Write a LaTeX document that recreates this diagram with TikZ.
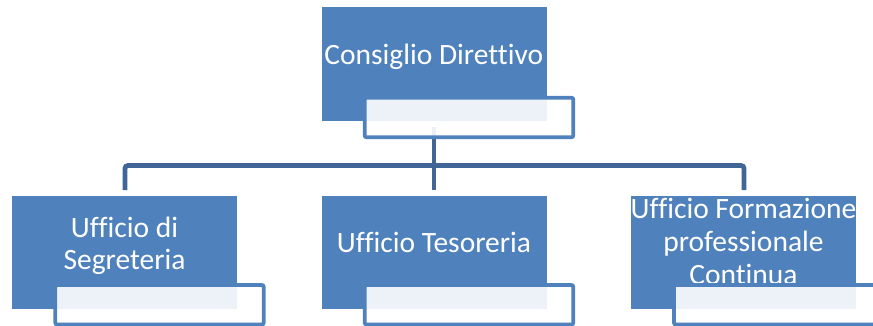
\documentclass[tikz,border=0pt]{standalone}
\usepackage{fontspec}
\setmainfont{Carlito}[Ligatures={NoCommon}]
\definecolor{boxblue}{HTML}{4F81BD}
\definecolor{linkblue}{HTML}{3F6696}
\tikzset{
  bluebox/.style={fill=boxblue, draw=none},
  lbl/.style={text=white, font=\fontsize{29.5}{31}\selectfont, inner sep=0pt, align=center},
  tagbox/.style={fill=white, fill opacity=0.9, draw=boxblue, draw opacity=1, line width=3.8pt, rounded corners=2pt},
  link/.style={draw=linkblue, line width=4.8pt, rounded corners=3pt}
}
\begin{document}
\begin{tikzpicture}[x=1pt, y=-1pt]
\useasboundingbox (0,0) rectangle (873,326);
\clip (0,0) rectangle (873,326);
% blue boxes
\fill[bluebox] (321.7,7.3) rectangle (546.7,120.7);
\fill[bluebox] (12,196) rectangle (237.3,309.3);
\fill[bluebox] (321.7,196) rectangle (546.7,309.3);
\fill[bluebox] (631,196) rectangle (856.3,309.3);
% texts
\node[lbl, anchor=base] (cd) at (433.8,65) {Consiglio Direttivo};
\node[lbl, anchor=center, font=\fontsize{29.5}{32}\selectfont] (seg) at (124.5,246) {Ufficio di\\Segreteria};
\node[lbl, anchor=base] (tes) at (434,252.7) {Ufficio Tesoreria};
\node[lbl, anchor=center, font=\fontsize{29.5}{33}\selectfont] (for) at (743.5,241.5) {Ufficio Formazione\\professionale\\Continua};
% connector anchors
\coordinate (top) at (434,127);
\coordinate (j) at (434,165.5);
\coordinate (l) at (125,190);
\coordinate (m) at (434,190);
\coordinate (r) at (744,190);
\draw[link] (l) |- (j) -| (r);
\draw[link, rounded corners=0pt] (top) -- (m);
% tag boxes
\draw[tagbox] (364.7,97.7) rectangle (573.3,137.3);
\draw[tagbox] (55.3,285) rectangle (263.7,324.6);
\draw[tagbox] (364.7,285) rectangle (573.3,324.6);
\draw[tagbox] (674,285) rectangle (882.6,324.6);
\end{tikzpicture}
\end{document}
